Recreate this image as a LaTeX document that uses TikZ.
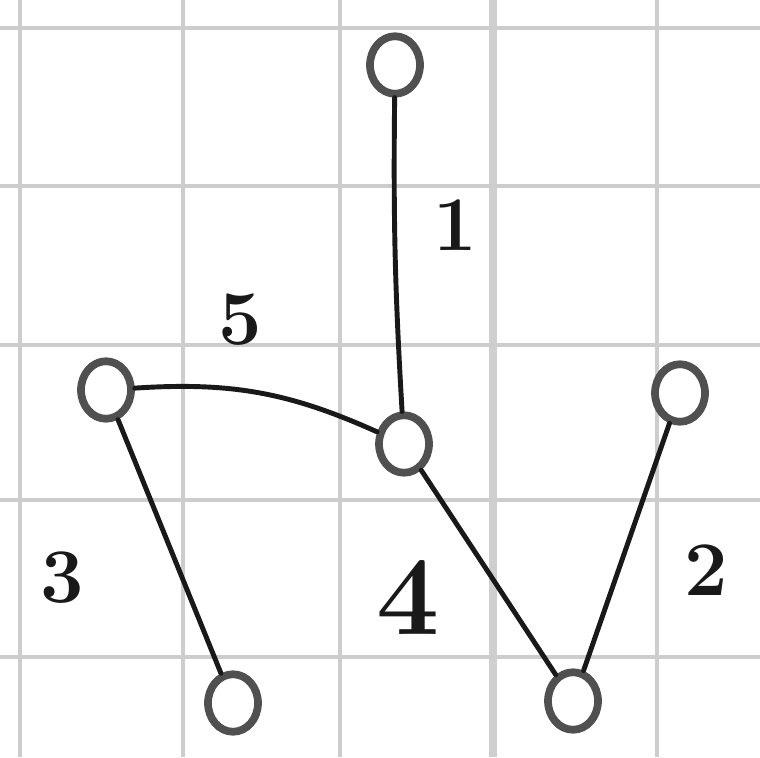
\documentclass[tikz,border=0pt]{standalone}
\usepackage{tikz}
\usetikzlibrary{shapes.geometric}
\definecolor{ink}{RGB}{25,25,25}
\definecolor{ringink}{RGB}{80,80,80}
\definecolor{paper}{RGB}{205,205,205}

\begin{document}
\begin{tikzpicture}[x=0.02cm,y=-0.02cm, vnode/.style={draw=ringink,line width=4.4pt,ellipse,minimum width=1.0cm,minimum height=1.15cm,inner sep=0pt}, wlabel/.style={font=\fontsize{44}{44}\selectfont\bfseries,text=ink}, edgeline/.style={draw=ink,line width=2.8pt,line cap=round}]
            \useasboundingbox (0,0) rectangle (760,757);
            % grid of the paper
            \foreach \gx in {20,183,340,657}
                \draw[paper,line width=2.2pt] (\gx,0)--(\gx,757);
            \draw[paper!85!black!60!white,line width=4pt] (493,0)--(493,757);
            \foreach \gy in {28,186,345,500,657}
                \draw[paper,line width=2.4pt] (0,\gy)--(760,\gy);

            \node[vnode] (t) at (395,65) {};
            \node[vnode] (l) at (106,390) {};
            \node[vnode] (c) at (404,444) {};
            \node[vnode] (r) at (680,393) {};
            \node[vnode] (bl) at (233,703) {};
            \node[vnode] (br) at (573,701) {};

            \node[wlabel] (w1) at (455,225) {1};
            \node[wlabel] (w5) at (240,320) {5};
            \node[wlabel] (w3) at (62,578) {3};
            \node[wlabel,font=\fontsize{64}{64}\selectfont\bfseries] (w4) at (408,597) {4};
            \node[wlabel] (w2) at (706,570) {2};

            \draw[edgeline] (t) to[bend right=2] (c);
            \draw[edgeline] (l) to[bend left=14] (c);
            \draw[edgeline] (l)--(bl);
            \draw[edgeline] (c)--(br);
            \draw[edgeline] (r)--(br);
        \end{tikzpicture}
\end{document}
